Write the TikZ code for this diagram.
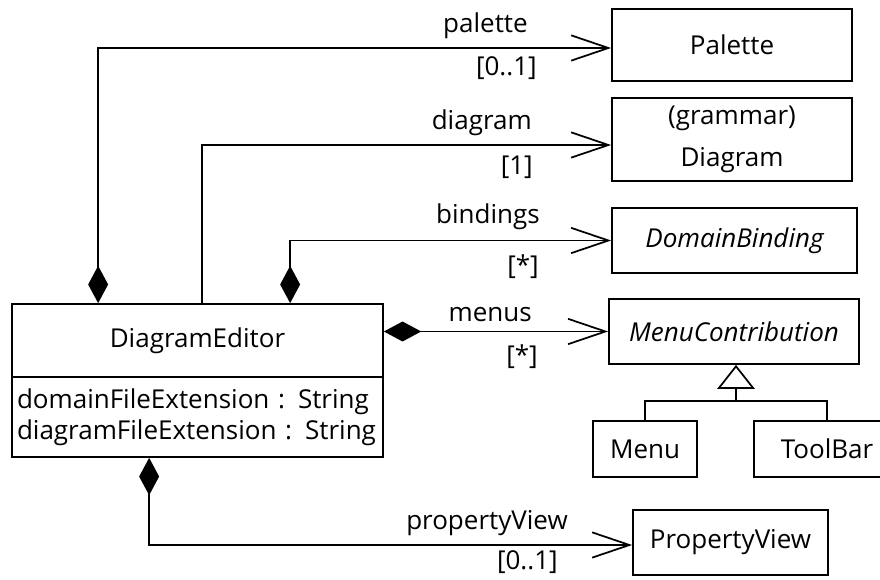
\documentclass[tikz,border=0pt]{standalone}
\usepackage{fontspec}
\setmainfont{Open Sans}
\usetikzlibrary{arrows.meta,calc}
\def\px{0.75pt}
\tikzset{
  cls/.style={draw, line width=1.3pt, inner sep=0pt, font=\fontsize{19.5}{23}\selectfont},
  lbl/.style={inner sep=0pt, anchor=east, font=\fontsize{19.5}{23}\selectfont},
  comp/.style={line width=1.3pt, {Diamond[length=28pt,width=15pt]}-{Straight Barb[length=28pt,width=19pt]}},
  nav/.style={line width=1.3pt, -{Straight Barb[length=28pt,width=19pt]}},
  gen/.style={line width=1.3pt, -{Triangle[open,length=18pt,width=28pt]}}
}
\begin{document}
\begin{tikzpicture}[x=0.75pt,y=-0.75pt]
\useasboundingbox (0,0) rectangle (880,580);
\clip (0,0) rectangle (880,580);

% classes
\node[cls, minimum width=240*\px, minimum height=72*\px] (palette) at (732,45) {Palette};
\node[cls, minimum width=240*\px, minimum height=83*\px, align=center] (diagram) at (732,139.5) {(grammar)\\[9pt]Diagram};
\node[cls, minimum width=245*\px, minimum height=65*\px] (binding) at (734.5,240.5) {\itshape DomainBinding};
\node[cls, minimum width=250*\px, minimum height=65*\px] (menuc) at (734,331.5) {\itshape MenuContribution};
\node[cls, minimum width=104*\px, minimum height=56*\px] (menu) at (645,449) {Menu};
\node[cls, minimum width=146*\px, minimum height=56*\px] (toolbar) at (827,449) {ToolBar};
\node[cls, minimum width=195*\px, minimum height=65*\px] (propview) at (730.5,542.5) {PropertyView};
\node[cls, minimum width=371*\px, minimum height=73*\px] (editor) at (197.5,340.5) {DiagramEditor};
\node[cls, minimum width=371*\px, minimum height=80*\px, text width=361*\px, align=left] (attrs) at (197.5,417) {domainFileExtension : String\\diagramFileExtension : String};

% associations
\draw[comp] ($(editor.north west)+(87,0)$) |- ([yshift=-3*\px]palette.west);
\draw[nav] ($(editor.north west)+(191,0)$) |- ([yshift=-5.5*\px]diagram.west);
\draw[comp] ($(editor.north west)+(279,0)$) |- (binding.west);
\draw[comp] (editor.east |- menuc.west) -- (menuc.west);
\draw[comp] ($(attrs.south west)+(138,0)$) |- ([yshift=-2.5*\px]propview.west);

% generalization
\coordinate (joint) at (736,401);
\draw[line width=1.3pt] (menu.north) |- (joint) -| (toolbar.north);
\draw[gen] (joint) -- (joint |- menuc.south);

% role names and multiplicities
\node[lbl] (l1) at (528,26) {palette};
\node[lbl] (m1) at (537,68) {[0..1]};
\node[lbl] (l2) at (532,123) {diagram};
\node[lbl] (m2) at (533,167) {[1]};
\node[lbl] (l3) at (540,217) {bindings};
\node[lbl] (m3) at (539,267) {[*]};
\node[lbl] (l4) at (532,315) {menus};
\node[lbl] (m4) at (538,357) {[*]};
\node[lbl] (l5) at (568,523) {propertyView};
\node[lbl] (m5) at (558,562) {[0..1]};
\end{tikzpicture}
\end{document}
